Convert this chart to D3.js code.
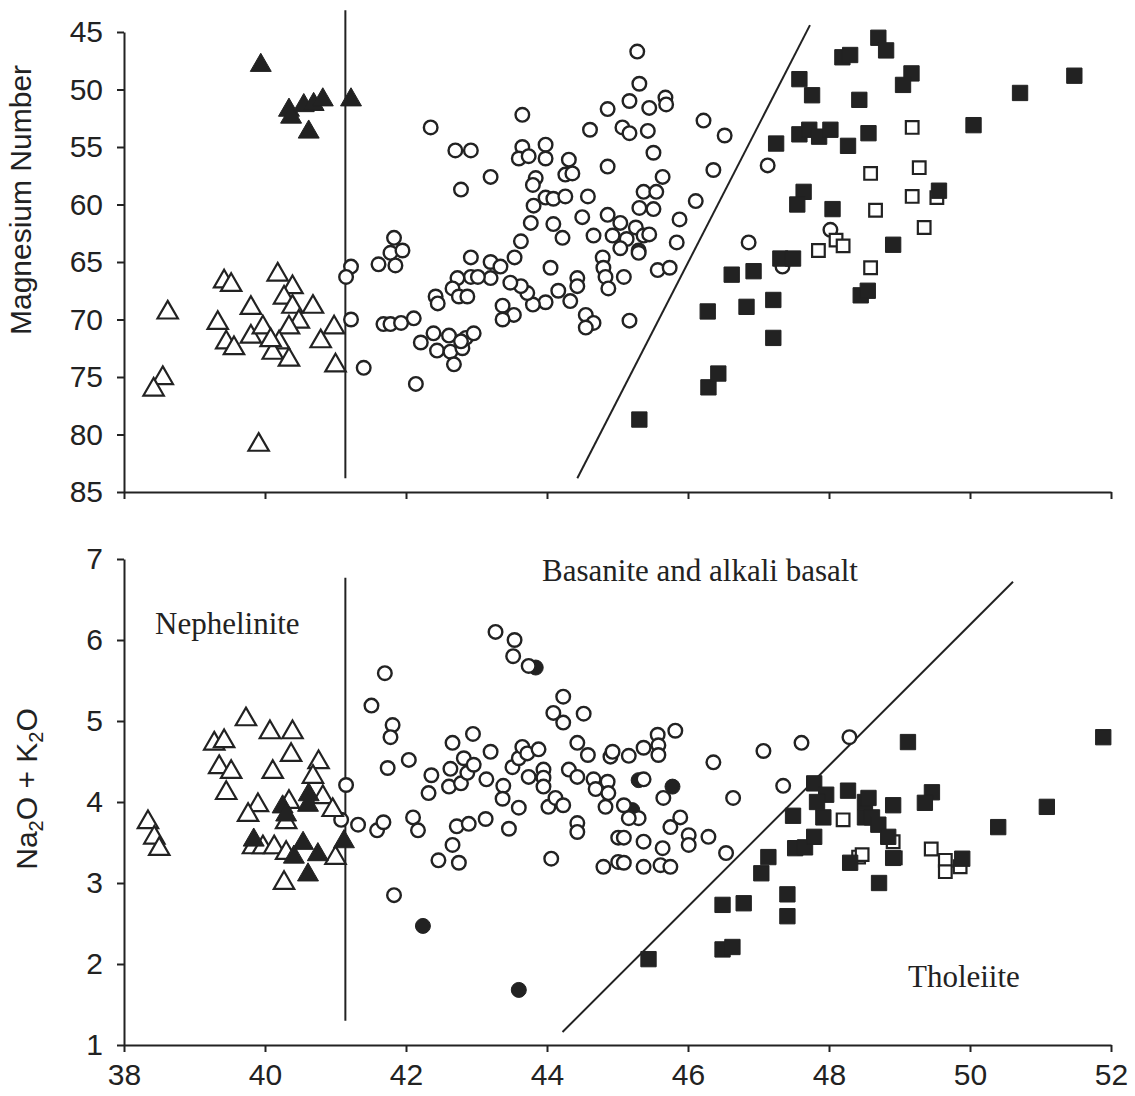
<!DOCTYPE html>
<html>
<head>
<meta charset="utf-8">
<script src="https://cdn.jsdelivr.net/npm/d3@7"></script>
<style>
  body { margin: 0; background: #fff; }
  .tick text { font-family: "Liberation Sans", Arial, sans-serif; font-size: 30px; fill: #222; }
  .axis path, .axis line { stroke: #222; stroke-width: 2px; }
</style>
</head>
<body>
<div id="chart"></div>
<script>
// ---- data (SiO2 wt% vs Mg number / total alkalis) ----
var xTicks = [38, 40, 42, 44, 46, 48, 50, 52];
var mgTicks = [45, 50, 55, 60, 65, 70, 75, 80, 85];
var alkTicks = [1, 2, 3, 4, 5, 6, 7];

// top panel: Magnesium Number
var mgOpenTri = [[38.62,69.4],[38.55,75.1],[38.42,76.1],[39.42,66.7],[39.52,67.0],[39.33,70.3],[39.45,72.0],
  [39.56,72.5],[39.80,69.0],[39.80,71.5],[39.97,70.7],[39.91,80.9],[40.18,66.1],[40.39,67.2],[40.27,68.1],
  [40.39,68.9],[40.68,68.9],[40.48,70.2],[40.34,70.7],[40.20,72.0],[40.11,72.9],[40.34,73.5],[40.98,70.7],
  [40.79,71.9],[41.0,74.0],[40.08,71.8]];
var mgFilledTri = [[39.94,47.9],[40.34,51.8],[40.37,52.4],[40.55,51.4],[40.69,51.3],[40.82,50.9],[40.62,53.7],[41.22,50.9]];
var mgOpenCircle = [[41.22,65.4],[41.15,66.3],[41.22,70.0],[41.40,74.2],
  [42.35,53.3],[43.65,52.2],[42.70,55.3],[42.92,55.3],[43.20,57.6],[42.78,58.7],[43.65,55.0],[43.60,56.0],
  [43.74,55.8],[43.98,54.8],[43.98,56.0],[43.84,57.7],[43.80,58.3],[44.31,56.1],[44.26,57.4],[44.36,57.3],
  [43.98,59.4],[44.09,59.5],[44.26,59.3],[43.81,60.1],[43.77,61.6],[44.09,61.7],[44.22,62.9],[43.63,63.2],
  [43.54,64.6],[44.58,59.3],[44.50,61.1],[44.86,51.7],[44.61,53.5],[44.86,56.7],[44.86,60.9],[44.66,62.7],
  [44.93,62.7],[44.79,64.6],[44.80,65.5],[44.83,66.3],[44.87,67.3],[44.05,65.5],[44.43,66.4],[44.43,67.1],
  [44.16,67.5],[44.33,68.4],[43.98,68.5],[43.80,68.7],[43.72,67.7],[43.63,67.1],[43.48,66.8],[43.37,68.8],
  [43.53,69.6],[43.37,70.0],[44.55,69.6],[44.66,70.3],[44.55,70.7],[42.92,64.6],[43.20,65.0],[43.34,65.4],
  [43.20,66.4],[42.92,66.3],[43.02,66.3],[42.73,66.4],[42.66,67.3],[42.75,68.0],[42.87,68.0],[42.42,68.0],
  [42.45,68.6],[41.83,62.9],[41.78,64.2],[41.95,64.0],[41.61,65.2],[41.85,65.3],[41.68,70.4],[41.78,70.4],
  [41.93,70.3],[42.11,69.9],[42.14,75.6],[42.21,72.0],[42.39,71.2],[42.44,72.7],[42.61,71.4],[42.63,72.8],
  [42.68,73.9],[42.80,72.5],[42.85,71.6],[42.96,71.2],[42.78,71.9],
  [45.28,46.7],[45.31,49.5],[45.17,51.0],[45.45,51.6],[45.68,50.7],[45.69,51.3],[45.07,53.3],[45.17,53.8],
  [45.43,53.6],[45.51,55.5],[45.64,57.6],[45.37,58.9],[45.55,58.9],[45.31,60.3],[45.51,60.4],[45.04,61.6],
  [45.26,62.0],[45.13,63.0],[45.37,62.7],[45.45,62.6],[45.04,63.8],[45.30,64.0],[45.30,64.2],[45.88,61.3],
  [45.84,63.3],[46.11,59.7],[46.22,52.7],[46.52,54.0],[46.36,57.0],[45.57,65.7],[45.74,65.5],[45.09,66.3],
  [45.17,70.1],
  [47.13,56.6],[46.86,63.3],[47.34,65.4],[48.02,62.2]];
var mgFilledSquare = [[45.31,78.7],[46.29,75.9],[46.43,74.7],[46.28,69.3],[46.62,66.1],[46.93,65.8],[46.83,68.9],
  [47.21,68.3],[47.21,71.6],[47.31,64.7],[47.49,64.7],[47.25,54.7],[47.58,49.1],[47.76,50.5],[47.58,53.9],
  [47.72,53.5],[47.86,54.1],[48.02,53.5],[48.27,54.9],[47.64,58.9],[47.55,60.0],[48.05,60.4],[48.19,47.2],
  [48.30,47.0],[48.43,50.9],[48.56,53.8],[48.45,67.9],[48.55,67.5],[48.70,45.5],[48.81,46.6],[49.17,48.6],
  [49.05,49.6],[50.71,50.3],[51.48,48.8],[50.05,53.1],[49.56,58.8],[48.91,63.5]];
var mgOpenSquare = [[47.85,64.0],[48.10,63.1],[48.20,63.6],[48.59,57.3],[48.59,65.5],[49.18,53.3],[49.28,56.8],
  [49.18,59.3],[49.53,59.4],[49.35,62.0],[48.66,60.5]];
var mgNephLine = [[41.14,43.1],[41.14,83.8]];
var mgThLine = [[44.43,83.8],[47.73,44.4]];

// bottom panel: Na2O + K2O
var alkOpenTri = [[38.34,3.75],[38.43,3.56],[38.50,3.42],[39.28,4.72],[39.42,4.75],[39.35,4.43],[39.52,4.37],
  [39.45,4.11],[39.73,5.02],[40.07,4.86],[40.39,4.86],[40.37,4.58],[40.11,4.37],[40.76,4.49],[40.68,4.31],
  [39.90,3.96],[39.76,3.84],[40.34,4.00],[40.30,3.75],[40.82,4.06],[40.96,3.90],[39.83,3.44],[39.97,3.44],
  [40.13,3.44],[40.30,3.37],[40.27,3.00],[41.00,3.31]];
var alkFilledTri = [[39.84,3.53],[40.25,3.94],[40.30,3.84],[40.62,4.09],[40.61,3.96],[40.54,3.49],[40.41,3.32],
  [40.75,3.35],[40.61,3.10],[41.12,3.51]];
var alkOpenCircle = [[41.15,4.21],[41.08,3.78],[41.32,3.72],[41.51,5.19],[41.70,5.59],[41.81,4.95],[41.78,4.80],
  [41.74,4.42],[42.04,4.52],[41.59,3.65],[41.68,3.75],[42.10,3.81],[42.17,3.65],[41.83,2.85],[42.36,4.33],
  [42.32,4.11],[42.66,4.73],[42.95,4.84],[42.63,4.41],[42.61,4.19],[42.78,4.23],[42.82,4.54],[42.87,4.36],
  [42.96,4.46],[43.20,4.62],[43.14,4.28],[42.72,3.70],[42.89,3.73],[43.13,3.79],[42.66,3.47],[42.46,3.28],
  [42.75,3.25],[43.27,6.10],[43.54,6.00],[43.52,5.80],[43.74,5.68],[43.38,4.20],[43.37,4.04],[43.60,3.93],
  [43.46,3.67],[43.51,4.43],[43.60,4.54],[43.65,4.68],[43.72,4.60],[43.88,4.65],[43.74,4.31],[43.95,4.40],
  [43.95,4.30],[43.95,4.19],[44.02,3.94],[44.12,4.05],[44.23,3.96],[44.06,3.30],[44.23,5.30],[44.09,5.10],
  [44.23,4.98],[44.52,5.09],[44.31,4.40],[44.43,4.31],[44.43,4.73],[44.58,4.58],[44.43,3.74],[44.43,3.63],
  [44.66,4.28],[44.69,4.16],[44.86,4.25],[44.87,4.11],[44.83,3.94],[44.90,4.56],[44.93,4.62],[44.80,3.20],
  [45.01,3.26],[45.01,3.56],
  [45.82,4.88],[45.57,4.83],[45.58,4.70],[45.58,4.58],[45.37,4.67],[45.16,4.57],[45.37,4.28],[45.65,4.05],
  [45.09,3.96],[45.30,3.80],[45.16,3.80],[45.89,3.81],[45.75,3.69],[46.01,3.59],[46.01,3.47],[46.29,3.57],
  [45.09,3.56],[45.37,3.51],[45.64,3.43],[45.09,3.25],[45.37,3.20],[45.61,3.22],[45.75,3.20],[46.36,4.49],
  [46.64,4.05],[46.54,3.37],[47.07,4.63],[47.61,4.73],[47.35,4.20],[48.29,4.80]];
var alkFilledCircle = [[42.24,2.47],[43.60,1.68],[43.84,5.66],[45.30,4.27],[45.78,4.19],[45.21,3.90]];
var alkFilledSquare = [[45.44,2.06],[46.49,2.18],[46.63,2.21],[46.49,2.73],[46.79,2.75],[47.41,2.86],[47.41,2.59],
  [47.04,3.12],[47.14,3.32],[47.49,3.83],[47.52,3.43],[47.66,3.44],[47.79,3.57],[47.79,4.23],[47.96,4.09],
  [47.83,4.00],[47.92,3.81],[48.27,4.14],[48.30,3.25],[48.51,4.00],[48.51,3.81],
  [49.12,4.74],[51.89,4.80],[51.09,3.94],[50.40,3.69],[49.46,4.12],[49.36,3.99],[48.91,3.96],[48.56,4.05],
  [48.61,3.81],[48.70,3.72],[48.84,3.57],[48.91,3.31],[48.71,3.00],[49.89,3.30]];
var alkOpenSquare = [[48.20,3.78],[48.42,3.32],[49.45,3.42],[49.65,3.28],[49.65,3.14],[49.86,3.20],[48.91,3.51],
  [48.94,3.31],[48.47,3.35]];
var alkNephLine = [[41.14,6.77],[41.14,1.3]];
var alkThLine = [[44.22,1.16],[50.61,6.72]];

var fieldNames = ["Nephelinite", "Basanite and alkali basalt", "Tholeiite"];
var fieldAnchors = [[38.44, 6.07], [43.93, 6.73], [49.12, 1.72]];

// ---- layout ----
var width = 1135, height = 1096;
var svg = d3.select("#chart").append("svg")
    .attr("width", width)
    .attr("height", height)
    .style("font-family", "'Liberation Sans', Arial, sans-serif");

var x = d3.scaleLinear().domain([38, 52]).range([124, 1111]);
var yMg = d3.scaleLinear().domain([45, 85]).range([32, 492]);
var yAlk = d3.scaleLinear().domain([1, 7]).range([1045, 559]);

var ink = "#222";

function drawPanel(y, ticks, baseY, showXLabels) {
    svg.append("g")
        .attr("class", "axis")
        .attr("transform", "translate(" + x.range()[0] + ",0)")
        .call(d3.axisLeft(y).tickValues(ticks).tickFormat(d3.format("d"))
            .tickSize(7).tickSizeOuter(0).tickPadding(14));

    var xAxis = d3.axisBottom(x).tickValues(xTicks).tickSize(7).tickSizeOuter(0).tickPadding(12);
    if (!showXLabels) xAxis.tickFormat("");
    svg.append("g")
        .attr("class", "axis")
        .attr("transform", "translate(0," + baseY + ")")
        .call(xAxis);
}

drawPanel(yMg, mgTicks, yMg(85), false);
drawPanel(yAlk, alkTicks, yAlk(1), true);

// axis titles
svg.append("text")
    .attr("transform", "translate(31,200) rotate(-90)")
    .attr("text-anchor", "middle")
    .attr("font-size", "30px")
    .attr("fill", ink)
    .text("Magnesium Number");

var alkTitle = svg.append("text")
    .attr("transform", "translate(37,789) rotate(-90)")
    .attr("text-anchor", "middle")
    .attr("font-size", "30px")
    .attr("fill", ink);
alkTitle.append("tspan").text("Na");
alkTitle.append("tspan").text("2").attr("font-size", "20px").attr("dy", 6);
alkTitle.append("tspan").text("O + K").attr("dy", -6);
alkTitle.append("tspan").text("2").attr("font-size", "20px").attr("dy", 6);
alkTitle.append("tspan").text("O").attr("dy", -6);

// boundary lines
function drawLine(pts, y) {
    var line = d3.line()
        .x(function(d) { return x(d[0]); })
        .y(function(d) { return y(d[1]); });
    svg.append("path")
        .datum(pts)
        .attr("d", line)
        .attr("fill", "none")
        .attr("stroke", ink)
        .attr("stroke-width", 2);
}
drawLine(mgNephLine, yMg);
drawLine(mgThLine, yMg);
drawLine(alkNephLine, yAlk);
drawLine(alkThLine, yAlk);

// markers
function circles(data, y, filled) {
    svg.append("g").selectAll("circle")
        .data(data)
        .enter().append("circle")
        .attr("cx", function(d) { return x(d[0]); })
        .attr("cy", function(d) { return y(d[1]); })
        .attr("r", filled ? 7.5 : 6.8)
        .attr("fill", filled ? ink : "#fff")
        .attr("stroke", ink)
        .attr("stroke-width", filled ? 1 : 2.4);
}
function symbols(data, y, type, size, filled) {
    var sym = d3.symbol().type(type).size(size);
    svg.append("g").selectAll("path")
        .data(data)
        .enter().append("path")
        .attr("transform", function(d) { return "translate(" + x(d[0]) + "," + y(d[1]) + ")"; })
        .attr("d", sym)
        .attr("fill", filled ? ink : "#fff")
        .attr("stroke", ink)
        .attr("stroke-width", filled ? 1 : 2.2);
}

circles(mgOpenCircle, yMg, false);
symbols(mgOpenTri, yMg, d3.symbolTriangle, 180, false);
symbols(mgFilledTri, yMg, d3.symbolTriangle, 190, true);
symbols(mgOpenSquare, yMg, d3.symbolSquare, 160, false);
symbols(mgFilledSquare, yMg, d3.symbolSquare, 235, true);

circles(alkFilledCircle, yAlk, true);
circles(alkOpenCircle, yAlk, false);
symbols(alkOpenTri, yAlk, d3.symbolTriangle, 180, false);
symbols(alkFilledTri, yAlk, d3.symbolTriangle, 190, true);
symbols(alkOpenSquare, yAlk, d3.symbolSquare, 160, false);
symbols(alkFilledSquare, yAlk, d3.symbolSquare, 235, true);

// field names
svg.append("g").selectAll("text")
    .data(fieldNames)
    .enter().append("text")
    .attr("x", function(d, i) { return x(fieldAnchors[i][0]); })
    .attr("y", function(d, i) { return yAlk(fieldAnchors[i][1]); })
    .attr("font-family", "'Liberation Serif', 'Times New Roman', serif")
    .attr("font-size", "31px")
    .attr("fill", ink)
    .text(function(d) { return d; });
</script>
</body>
</html>
